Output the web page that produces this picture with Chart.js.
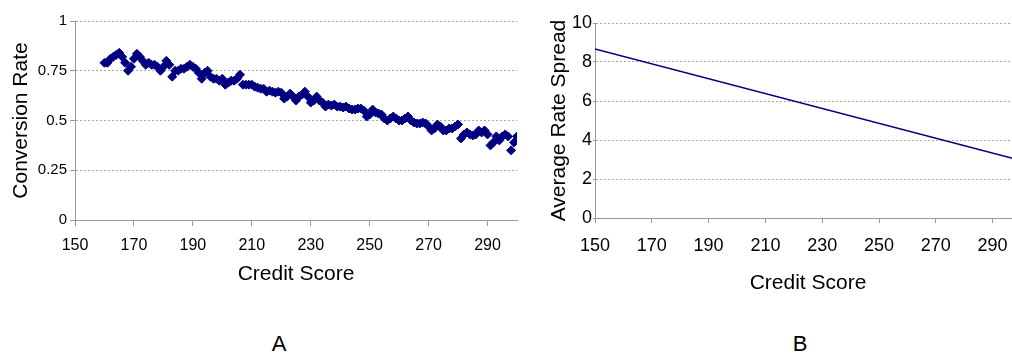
<!DOCTYPE html>
<html>
<head>
<meta charset="utf-8">
<script src="https://cdn.jsdelivr.net/npm/chart.js@4"></script>
<style>
html,body{margin:0;padding:0;background:#fff;overflow:hidden;width:1012px;height:355px}
#wrapA{position:absolute;left:0;top:0;width:540px;height:300px}
#wrapB{position:absolute;left:540px;top:0;width:500px;height:300px}
.lbl{position:absolute;top:331px;font:22px 'Liberation Sans',Arial,sans-serif;color:#000;transform:translateX(-50%)}
</style>
</head>
<body>
<div id="wrapA"><canvas id="chartA" width="540" height="300"></canvas></div>
<div id="wrapB"><canvas id="chartB" width="500" height="300"></canvas></div>
<div class="lbl" style="left:279px">A</div>
<div class="lbl" style="left:800px">B</div>
<script>
// dados
const creditScores = [
  160,161,162,163,164,165,166,167,168,169,
  170,171,172,173,174,175,176,177,178,179,
  180,181,182,183,184,185,186,187,188,189,
  190,191,192,193,194,195,196,197,198,199,
  200,201,202,203,204,205,206,207,208,209,
  210,211,212,213,214,215,216,217,218,219,
  220,221,222,223,224,225,226,227,228,229,
  230,231,232,233,234,235,236,237,238,239,
  240,241,242,243,244,245,246,247,248,249,
  250,251,252,253,254,255,256,257,258,259,
  260,261,262,263,264,265,266,267,268,269,
  270,271,272,273,274,275,276,277,278,279,
  280,281,282,283,284,285,286,287,288,289,
  290,291,292,293,294,295,296,297,298,299,
  300
];
const conversionRate = [
  0.79,0.79,0.81,0.82,0.83,0.84,0.82,0.79,0.75,0.77,
  0.81,0.835,0.82,0.80,0.78,0.79,0.78,0.78,0.77,0.75,
  0.77,0.80,0.78,0.72,0.75,0.75,0.76,0.76,0.77,0.78,
  0.77,0.76,0.74,0.71,0.74,0.75,0.72,0.71,0.71,0.70,
  0.71,0.68,0.69,0.70,0.70,0.71,0.73,0.68,0.68,0.68,
  0.68,0.67,0.665,0.66,0.66,0.645,0.65,0.645,0.64,0.645,
  0.64,0.61,0.62,0.635,0.62,0.60,0.62,0.63,0.645,0.62,
  0.59,0.60,0.62,0.60,0.59,0.57,0.58,0.575,0.58,0.57,
  0.57,0.565,0.57,0.56,0.555,0.555,0.56,0.56,0.55,0.52,
  0.53,0.555,0.54,0.535,0.53,0.51,0.50,0.51,0.52,0.51,
  0.50,0.50,0.51,0.52,0.50,0.49,0.485,0.485,0.49,0.485,
  0.47,0.45,0.46,0.48,0.47,0.45,0.45,0.46,0.46,0.47,
  0.48,0.41,0.43,0.44,0.43,0.425,0.43,0.45,0.44,0.45,
  0.43,0.375,0.39,0.42,0.40,0.42,0.43,0.42,0.35,0.39,
  0.42
];
const spreadScores = [150, 300];
const rateSpread = [8.67, 2.95];

const xTicks = [150,170,190,210,230,250,270,290];
const yTicksA = [0,0.25,0.5,0.75,1];
const yLabelsA = ['0','0.25','0.5','0.75','1'];
const yTicksB = [0,2,4,6,8,10];

const FONT = "'Liberation Sans', Arial, sans-serif";
const NAVY = '#000080';

Chart.defaults.color = '#000';
Chart.defaults.font.family = FONT;

function setTicks(list){
  return s => { s.ticks = list.map(v => ({value:v})); };
}

// Gráfico A: dispersão
new Chart(document.getElementById('chartA'),{
  type:'scatter',
  data:{datasets:[{
    data: creditScores.map((x,i) => ({x, y: conversionRate[i]})),
    pointStyle:'rectRot', pointRadius:4.5, pointBorderWidth:1,
    backgroundColor:NAVY, borderColor:NAVY
  }]},
  options:{
    responsive:false, animation:false, devicePixelRatio:1,
    layout:{padding:{top:21,right:23,left:0,bottom:0}},
    plugins:{legend:{display:false}, tooltip:{enabled:false}},
    events:[],
    scales:{
      x:{type:'linear', min:150, max:300,
        afterBuildTicks:setTicks(xTicks),
        afterFit:s => { s.height = 80; },
        grid:{drawOnChartArea:false, tickLength:6, color:'#999'},
        border:{color:'#999'},
        ticks:{padding:10, maxRotation:0, autoSkip:false, font:{size:16}},
        title:{display:true, text:'Credit Score', font:{size:21}, padding:{top:0,bottom:13}}
      },
      y:{min:0, max:1,
        afterBuildTicks:setTicks(yTicksA),
        afterFit:s => { s.width = 75; },
        grid:{color:'#aaa', tickLength:5, tickColor:'#999'},
        border:{color:'#999', dash:[2,2]},
        ticks:{padding:3, font:{size:15}, callback:(v) => yLabelsA[yTicksA.indexOf(v)]},
        title:{display:true, text:'Conversion Rate', font:{size:21}, padding:{top:9,bottom:0}}
      }
    }
  }
});

// Gráfico B: linha
new Chart(document.getElementById('chartB'),{
  type:'line',
  data:{datasets:[{
    data: spreadScores.map((x,i) => ({x, y: rateSpread[i]})),
    borderColor:NAVY, borderWidth:1.5, pointRadius:0, fill:false
  }]},
  options:{
    responsive:false, animation:false, devicePixelRatio:1,
    layout:{padding:{top:23,right:19,left:0,bottom:0}},
    plugins:{legend:{display:false}, tooltip:{enabled:false}},
    events:[],
    scales:{
      x:{type:'linear', min:150, max:300,
        afterBuildTicks:setTicks(xTicks),
        afterFit:s => { s.height = 82; },
        grid:{drawOnChartArea:false, tickLength:5, color:'#999'},
        border:{color:'#999'},
        ticks:{padding:12, maxRotation:0, autoSkip:false, font:{size:18}},
        title:{display:true, text:'Credit Score', font:{size:21}, padding:{top:0,bottom:4}}
      },
      y:{min:0, max:10,
        afterBuildTicks:setTicks(yTicksB),
        afterFit:s => { s.width = 55; },
        grid:{color:'#aaa', tickLength:2, tickColor:'#999'},
        border:{color:'#999', dash:[2,2]},
        ticks:{padding:1, font:{size:18}},
        title:{display:true, text:'Average Rate Spread', font:{size:21}, padding:{top:7,bottom:0}}
      }
    }
  }
});
</script>
</body>
</html>
